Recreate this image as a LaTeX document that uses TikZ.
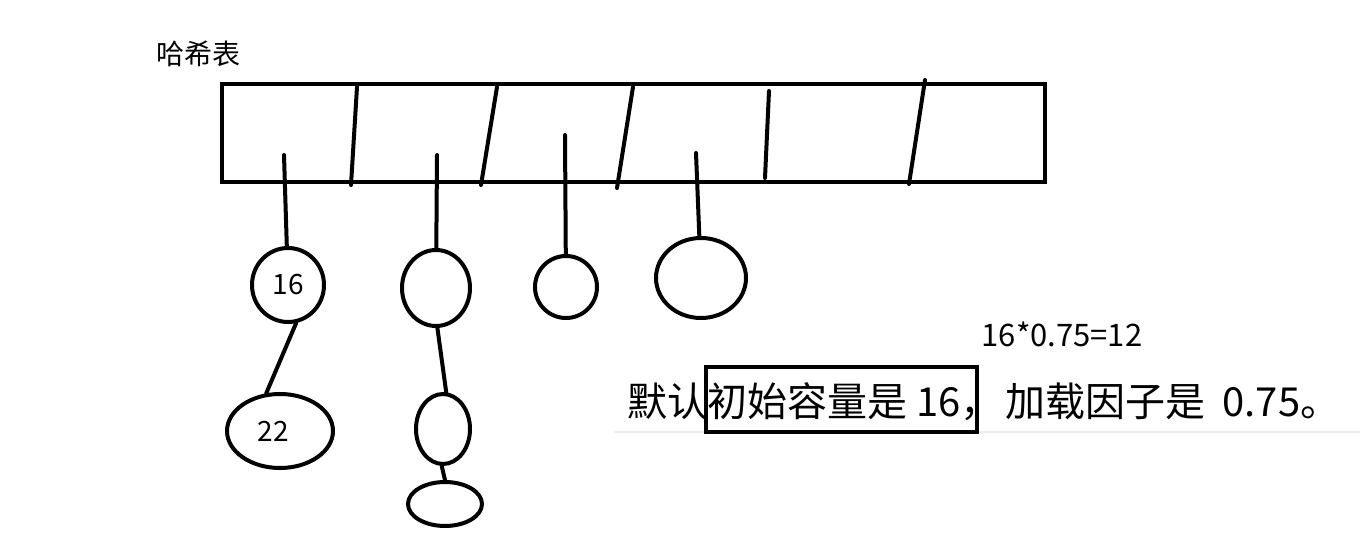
\documentclass[tikz,border=0pt]{standalone}
\usepackage{fontspec}
\usepackage{tikz}
\usetikzlibrary{shapes.geometric, positioning}
\newfontfamily\hei{Noto Sans CJK SC}

\begin{document}
\begin{tikzpicture}[x=1pt, y=-1pt, line width=4pt,
    bucket/.style={draw, ellipse, inner sep=0pt, font=\hei\fontsize{28}{30}\selectfont},
    link/.style={line width=4pt, line cap=round}]
  \useasboundingbox (0,0) rectangle (1360,540);
  % Title and the table itself
  \node[font=\hei\fontsize{28}{30}\selectfont] (title) at (198,54) {哈希表};
  \node[draw, minimum width=823, minimum height=98, inner sep=0pt] (table) at (633.5,133) {};
  % Slot dividers (hand drawn, slightly slanted)
  \foreach \xt/\yt/\xb/\yb in {357/87/351/185, 497/87/481/185, 633/87/617/188,
                               769/91/765/178, 925/80/909/184} {
    \draw[link] (\xt,\yt) -- (\xb,\yb);
  }
  % Chains hanging off the slots
  \node[bucket, minimum width=72, minimum height=74] (n16) at (288,285) {16};
  \node[bucket, minimum width=106, minimum height=74] (n22) at (280,431) {\hspace*{-14pt}22};
  \node[bucket, minimum width=68, minimum height=76] (c2a) at (436,288) {};
  \node[bucket, minimum width=54, minimum height=70] (c2b) at (443,429) {};
  \node[bucket, minimum width=74, minimum height=44] (c2c) at (445,504) {};
  \node[bucket, minimum width=62, minimum height=62] (c3) at (566,287) {};
  \node[bucket, minimum width=90, minimum height=80] (c4) at (701,278) {};
  \coordinate (s1) at (284,155);
  \coordinate (s2) at (437,155);
  \coordinate (s3) at (565,135);
  \coordinate (s4) at (696,153);
  \draw[link] (s1) -- (n16);
  \draw[link] (s2) -- (c2a);
  \draw[link] (s3) -- (c3);
  \draw[link] (s4) -- (c4);
  \draw[link] (n16.-78) -- (n22.110);
  \draw[link] (c2a.-88) -- (c2b.85);
  \draw[link] (c2b.-92) -- (c2c.90);
  % Notes
  \node[font=\hei\fontsize{31}{33}\selectfont] (calc) at (1062,334) {16*0.75=12};
  \draw[line width=1.5pt, black!8] (615,432) -- (1360,432);
  \node[anchor=west, font=\hei\fontsize{40}{44}\selectfont] (note) at (622,402)
    {默认初始容量是 16，\hspace{5pt}加载因子是\hspace{8pt} 0.75。};
  \node[draw, minimum width=271, minimum height=65, inner sep=0pt] (mark) at (841.5,399.5) {};
\end{tikzpicture}
\end{document}
